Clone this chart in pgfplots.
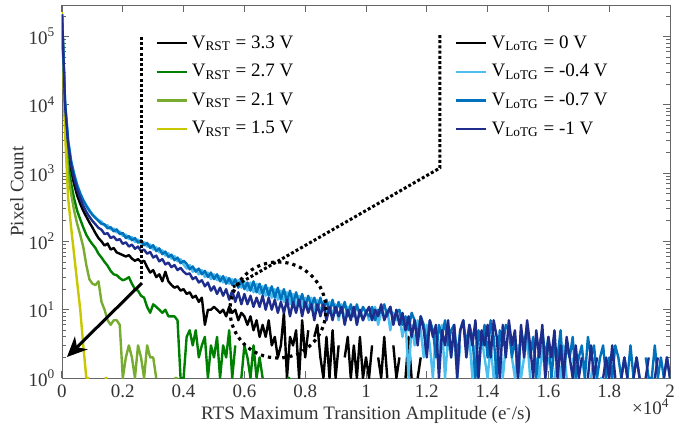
\documentclass[border=0pt]{standalone}
\usepackage{fontspec}
\setmainfont{Liberation Serif}
\usepackage{pgfplots}
\pgfplotsset{compat=1.18}
\usepackage{pgfplotstable}
\usetikzlibrary{arrows.meta}

\definecolor{cK}{RGB}{0,0,0}
\definecolor{cG}{RGB}{0,128,0}
\definecolor{cL}{RGB}{119,172,48}
\definecolor{cY}{RGB}{200,200,0}
\definecolor{cC}{RGB}{77,190,238}
\definecolor{cB}{RGB}{0,114,189}
\definecolor{cN}{RGB}{30,45,140}

\pgfplotstableread{
x K G L Y C B N
0 210000 210000 210000 230000 210000 210000 210000
100 9000 7000 6300 4000 11500 11000 10000
200 2200 1400 1000 440 3150 3000 2700
300 1100 700 500 160 1500 1500 1300
400 680 420 280 63 980 950 830
500 470 280 180 25 680 660 575
600 355 210 125 10 510 500 430
700 280 160 83 3 405 400 330
800 230 125 45 1 340 330 270
900 190 105 28 1 290 280 230
1000 160 91 24 nan 250 245 200
1100 132 80 23 nan 225 220 178
1200 112 66 26 nan 205 200 158
1300 100 58 13 nan 195 180 148
1400 87 50 10 1 170 178 128
1500 93 44 7 1 172 155 132
1600 76 37 6 nan 150 162 112
1700 80 33 7 nan 155 140 118
1800 69 32 7 nan 135 150 104
1900 66 29 6 nan 140 128 108
2000 63 27 1 nan 120 133 92
2100 60 28 2 nan 126 112 97
2200 63 30 3 nan 108 120 84
2300 56 24 2 nan 116 104 90
2400 52 20 1 nan 98 112 78
2500 55 19 3 nan 106 96 84
2600 50 16 2 nan 92 104 72
2700 52 15 1 nan 98 88 76
2800 42 11 3 nan 84 95 66
2900 35 9 2 nan 90 80 70
3000 38 12 2 nan 76 88 58
3100 30 11 1 nan 82 72 62
3200 33 10 nan nan 69 79 51
3300 26 9 nan nan 74 65 55
3400 36 10 nan nan 62 71 46
3500 26 8 nan nan 67 59 49
3600 23 8 nan nan 56 64 42
3700 21 8 1 nan 61 53 45
3800 22 7 1 nan 51 58 38
3900 19 1 nan nan 55 48 41
4000 20 1 nan nan 46 52 36
4100 17 4 nan nan 40 47 33
4200 18 5 nan nan 45 39 34
4300 15 3 nan nan 36 43 28
4400 16 5 nan nan 39 36 30
4500 13 2 nan nan 33 40 25
4600 15 3 nan nan 38 33 27
4700 6 4 nan nan 30 37 22
4800 10 1 nan nan 35 30 25
4900 10 3 nan nan 28 35 19
5000 11 2 nan nan 33 28 22
5100 10 4 nan nan 27 33 17
5200 9 1 nan nan 31 26 21
5300 10 3 nan nan 25 31 16
5400 8 2 nan nan 30 24 20
5500 11 5 nan nan 24 29 14
5600 9 1 nan nan 28 23 19
5700 10 3 nan nan 22 28 13
5800 7 nan nan nan 27 21 18
5900 9 1 nan nan 21 27 12
6000 8 3 nan nan 26 20 17
6100 6 2 nan nan 19 25 12
6200 8 1 nan nan 25 19 16
6300 5 3 nan nan 18 26 11
6400 7 1 nan nan 24 18 15
6500 4 2 nan nan 17 24 11
6600 6 1 nan nan 22 17 16
6700 4 nan nan nan 16 23 10
6800 7 nan nan nan 21 16 15
6900 3 nan nan nan 15 22 10
7000 4 nan nan nan 20 15 14
7100 2 nan nan nan 14 21 9
7200 3 nan nan nan 19 14 13
7300 9 nan nan nan 13 20 9
7400 1 1 nan nan 18 13 14
7500 4 1 nan nan 12 19 8
7600 3 nan nan nan 17 12 13
7700 5 nan nan nan 11 18 9
7800 1 nan nan nan 16 12 14
7900 7 nan nan nan 11 17 8
8000 2 nan nan nan 15 11 13
8100 5 nan nan nan 10 16 9
8200 nan nan nan nan 15 11 12
8300 4 nan nan nan 9 15 7
8400 6 nan nan nan 14 10 12
8500 2 nan nan nan 9 15 8
8600 1 nan nan nan 13 10 12
8700 4 nan nan nan 8 14 7
8800 1 nan nan nan 13 9 11
8900 5 nan nan nan 8 14 7
9000 1 nan nan nan 12 9 11
9100 3 nan nan nan 7 13 8
9200 nan nan nan nan 12 9 11
9300 2 nan nan nan 7 13 6
9400 4 nan nan nan 11 8 10
9500 1 nan nan nan 8 12 7
9600 3 nan nan nan 11 8 11
9700 1 nan nan nan 6 12 6
9800 4 nan nan nan 10 8 10
9900 1 nan nan nan 7 11 7
10000 2 nan nan nan 10 9 9
10100 1 nan nan nan 7 8 11
10200 3 nan nan nan 9 11 7
10300 nan nan nan nan 11 7 10
10400 2 nan nan nan 6 10 8
10500 1 nan nan nan 9 9 12
10600 4 nan nan nan 8 12 7
10700 1 nan nan nan 10 8 9
10800 nan nan nan nan 5 11 11
10900 3 nan nan nan 9 7 6
11000 1 nan nan nan 7 9 10
11100 2 nan nan nan 8 10 6
11200 nan nan nan nan 4 6 9
11300 1 nan nan nan 7 8 5
11400 4 nan nan nan 1 5 8
11500 1 nan nan nan 6 9 4
11600 nan nan nan nan 3 7 7
11700 1 nan nan nan 7 4 3
11800 2 nan nan nan 5 8 8
11900 nan nan nan nan 2 6 5
12000 nan nan nan nan 6 3 2
12100 nan nan nan nan 3 7 7
12200 nan nan nan nan 1 5 4
12300 nan nan nan nan 5 2 6
12400 nan nan nan nan 2 6 1
12500 nan nan nan nan 6 4 5
12600 nan nan nan nan 1 7 3
12700 nan nan nan nan 4 3 7
12800 nan nan nan nan 2 5 2
12900 nan nan nan nan 5 6 6
13000 nan nan nan nan 1 2 1
13100 nan nan nan nan 3 5 5
13200 nan nan nan nan nan 7 7
13300 nan nan nan nan 2 3 2
13400 nan nan nan nan 4 6 6
13500 nan nan nan nan 1 4 3
13600 nan nan nan nan 3 1 7
13700 nan nan nan nan 1 5 1
13800 nan nan nan nan 4 3 5
13900 nan nan nan nan 2 6 3
14000 nan nan nan nan 1 2 6
14100 nan nan nan nan 3 7 2
14200 nan nan nan nan 1 4 7
14300 nan nan nan nan 2 1 4
14400 nan nan nan nan 4 5 1
14500 nan nan nan nan 1 3 6
14600 nan nan nan nan 3 6 2
14700 nan nan nan nan nan 5 7
14800 nan nan nan nan 2 2 3
14900 nan nan nan nan 1 4 5
15000 nan nan nan nan 3 1 1
15100 nan nan nan nan 1 5 6
15200 nan nan nan nan 2 3 2
15300 nan nan nan nan 4 6 7
15400 nan nan nan nan 1 2 3
15500 nan nan nan nan nan 4 1
15600 nan nan nan nan 2 1 5
15700 nan nan nan nan 1 3 2
15800 nan nan nan nan 3 5 6
15900 nan nan nan nan 1 2 1
16000 nan nan nan nan 2 4 4
16100 nan nan nan nan nan 1 2
16200 nan nan nan nan 1 3 5
16300 nan nan nan nan 2 2 1
16400 nan nan nan nan 1 5 3
16500 nan nan nan nan 3 1 1
16600 nan nan nan nan 1 3 4
16700 nan nan nan nan nan 2 2
16800 nan nan nan nan 2 4 1
16900 nan nan nan nan 1 1 3
17000 nan nan nan nan nan 2 1
17100 nan nan nan nan 2 3 2
17200 nan nan nan nan 1 1 nan
17300 nan nan nan nan nan 4 1
17400 nan nan nan nan 1 2 3
17500 nan nan nan nan 2 3 1
17600 nan nan nan nan nan 1 2
17700 nan nan nan nan 1 2 nan
17800 nan nan nan nan 1 3 1
17900 nan nan nan nan nan 1 2
18000 nan nan nan nan 2 2 1
18100 nan nan nan nan 1 1 3
18200 nan nan nan nan nan 3 1
18300 nan nan nan nan 1 2 nan
18400 nan nan nan nan nan 1 1
18500 nan nan nan nan 1 2 2
18600 nan nan nan nan nan 1 1
18700 nan nan nan nan 1 3 nan
18800 nan nan nan nan nan 1 1
18900 nan nan nan nan 1 2 2
19000 nan nan nan nan nan 1 1
19100 nan nan nan nan nan nan nan
19200 nan nan nan nan nan 2 1
19300 nan nan nan nan nan 1 2
19400 nan nan nan nan nan 1 nan
19500 nan nan nan nan nan 3 1
19600 nan nan nan nan nan 1 2
19700 nan nan nan nan nan 2 nan
19800 nan nan nan nan nan 1 1
19900 nan nan nan nan nan 2 2
20000 nan nan nan nan nan 1 1
}\data

\newcommand{\lfont}{\fontsize{9.5}{11}\selectfont}

\begin{document}
\lfont
\begin{tikzpicture}
\begin{axis}[
  width=304pt, height=186.5pt, scale only axis,
  xmin=0, xmax=20000, ymin=1, ymax=289000,
  ymode=log,
  unbounded coords=jump,
  legend image code/.code={\draw[#1] (0pt,0pt) -- (15pt,0pt);},
  legend cell align=left,
  xtick={0,2000,4000,6000,8000,10000,12000,14000,16000,18000,20000},
  xticklabels={0,0.2,0.4,0.6,0.8,1,1.2,1.4,1.6,1.8,2},
  scaled x ticks=false,
  ytick={1,10,100,1000,10000,100000},
  yticklabels={10\textsuperscript{0},10\textsuperscript{1},10\textsuperscript{2},10\textsuperscript{3},10\textsuperscript{4},10\textsuperscript{5}},
  minor ytick={2,3,4,5,6,7,8,9,20,30,40,50,60,70,80,90,200,300,400,500,600,700,800,900,2000,3000,4000,5000,6000,7000,8000,9000,20000,30000,40000,50000,60000,70000,80000,90000,200000},
  axis line style={black!60},
  major tick style={black!60, line width=0.5pt},
  minor tick style={black!60, line width=0.4pt},
  major tick length=3.5pt, minor tick length=2pt,
  tick label style={font=\lfont, text=black!80},
  xlabel style={font=\lfont, text=black!80, yshift=2pt},
  ylabel style={font=\lfont, text=black!80, yshift=-4pt},
  xlabel={RTS Maximum Transition Amplitude (e\textsuperscript{-}/s)},
  ylabel={Pixel Count},
  legend style={draw=none, fill=none, inner sep=0pt, row sep=2.6pt, font=\lfont, anchor=north west, at={(rel axis cs:0.153,0.93)}},
]
\addplot[cK, line width=1.2pt, line join=round] table[x=x,y=K] {\data};
\addlegendentry{V\textsubscript{RST} = 3.3 V}
\addplot[cG, line width=1.2pt, line join=round] table[x=x,y=G] {\data};
\addlegendentry{V\textsubscript{RST} = 2.7 V}
\addplot[cL, line width=1.2pt, line join=round] table[x=x,y=L] {\data};
\addlegendentry{V\textsubscript{RST} = 2.1 V}
\addplot[cY, line width=1.2pt, line join=round] table[x=x,y=Y] {\data};
\addlegendentry{V\textsubscript{RST} = 1.5 V}
\end{axis}
\begin{axis}[
  width=304pt, height=186.5pt, scale only axis,
  xmin=0, xmax=20000, ymin=1, ymax=289000,
  ymode=log,
  unbounded coords=jump,
  hide axis,
  legend image code/.code={\draw[#1] (0pt,0pt) -- (15pt,0pt);},
  legend cell align=left,
  legend style={draw=none, fill=none, inner sep=0pt, row sep=2.6pt, font=\lfont, anchor=north west, at={(rel axis cs:0.646,0.93)}},
]
\addlegendimage{cK, line width=1.2pt}
\addlegendentry{V\textsubscript{LoTG} = 0 V}
\addplot[cC, line width=1.2pt, line join=round] table[x=x,y=C] {\data};
\addlegendentry{V\textsubscript{LoTG} = -0.4 V}
\addplot[cB, line width=1.2pt, line join=round] table[x=x,y=B] {\data};
\addlegendentry{V\textsubscript{LoTG} = -0.7 V}
\addplot[cN, line width=1.2pt, line join=round] table[x=x,y=N] {\data};
\addlegendentry{V\textsubscript{LoTG} = -1 V}
\draw[line width=1.5pt, dash pattern=on 1.5pt off 1.1pt] (axis cs:2600,98000) -- (axis cs:2600,27);
\draw[line width=1.5pt, dash pattern=on 1.5pt off 1.1pt] (axis cs:12434,105000) -- (axis cs:12434,1189) -- (axis cs:5625,21.5);
\draw[line width=1.6pt, dash pattern=on 1.6pt off 2pt] (axis cs:7105,9.9) circle[radius=24pt];
\draw[line width=1.5pt, -{Stealth[length=10pt,width=9pt,inset=3pt]}] (axis cs:2630,24.6) -- (axis cs:164,2.03);
\end{axis}
\node[anchor=north east, inner sep=0pt, font=\lfont, text=black!80] at ([yshift=-10pt]current axis.south east) {×10\textsuperscript{4}};
\pgfresetboundingbox
\path ([xshift=-31pt,yshift=-28.5pt]current axis.south west) rectangle ++(348pt,217.5pt);
\end{tikzpicture}
\end{document}
